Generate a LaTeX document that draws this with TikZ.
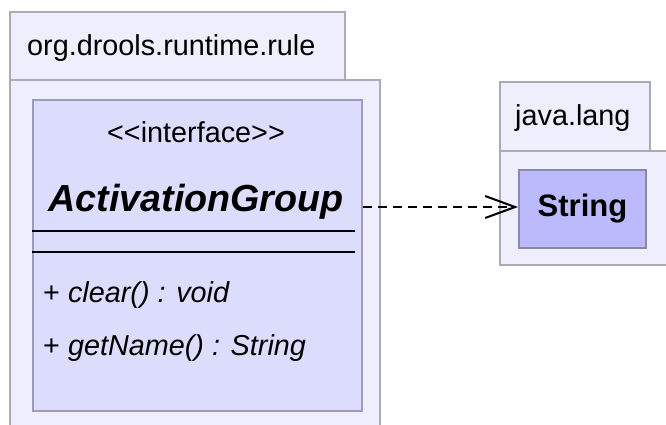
\documentclass[tikz,border=0pt]{standalone}
\usepackage{fontspec}
\setmainfont{Liberation Sans}
\usetikzlibrary{arrows.meta}
\definecolor{pkgfill}{HTML}{EEEEFC}
\definecolor{pkgline}{HTML}{ABABB3}
\definecolor{clsfill}{HTML}{DCDCFC}
\definecolor{clsline}{HTML}{9C9CB8}
\definecolor{strfill}{HTML}{BABAFC}
\definecolor{strline}{HTML}{8888AA}
\tikzset{
  pkg/.style={draw=pkgline, fill=pkgfill, line width=2pt},
  cls/.style={draw=clsline, fill=clsfill, line width=2pt},
  txt/.style={inner sep=0pt, font=\fontsize{28.8}{30}\selectfont},
  sep/.style={black, line width=2pt},
  dep/.style={black, line width=2pt, dash pattern=on 9pt off 6pt, -{Straight Barb[length=30pt,width=22pt,line width=2pt]}}
}
\begin{document}
\begin{tikzpicture}[x=1pt,y=-1pt]
\useasboundingbox (0,0) rectangle (666,424);
\fill[white] (0,0) rectangle (666,424);
\clip (0,0) rectangle (666,424);
% left package
\draw[pkg] (10,12) rectangle (345,80);
\draw[pkg] (10,80) rectangle (380,440);
\node[txt, anchor=west] (pkgA) at (27,48) {org.drools.runtime.rule};
% class box
\node[cls, minimum width=329pt, minimum height=311pt, inner sep=0pt, anchor=north west] (ag) at (32,99) {};
\node[txt] (stereo) at (196,132) {<\kern0pt<interface>\kern0pt>};
\node[inner sep=0pt, font=\fontsize{37.7}{40}\selectfont\bfseries\itshape] (agname) at (196,202) {ActivationGroup};
\coordinate (s1l) at (32,231); \coordinate (s1r) at (355,231);
\coordinate (s2l) at (32,252); \coordinate (s2r) at (355,252);
\draw[sep] (s1l) -- (s1r);
\draw[sep] (s2l) -- (s2r);
\node[txt, anchor=west] (m1) at (43,295) {+ \textit{clear() : void}};
\node[txt, anchor=west] (m2) at (43,348) {+ \textit{getName() : String}};
% right package
\draw[pkg] (500,82) rectangle (650,151);
\draw[pkg] (500,151) rectangle (680,265);
\node[txt, anchor=west] (pkgB) at (515,118) {java.lang};
\node[draw=strline, fill=strfill, line width=2pt, minimum width=127pt, minimum height=78pt, inner sep=0pt, anchor=north west] (str) at (518,169) {};
\node[inner sep=0pt, font=\fontsize{31}{33}\selectfont\bfseries] (strname) at (str.center) {String};
% dependency
\draw[dep] (ag.east |- 0,207) -- (str.west |- 0,207);
\end{tikzpicture}
\end{document}
